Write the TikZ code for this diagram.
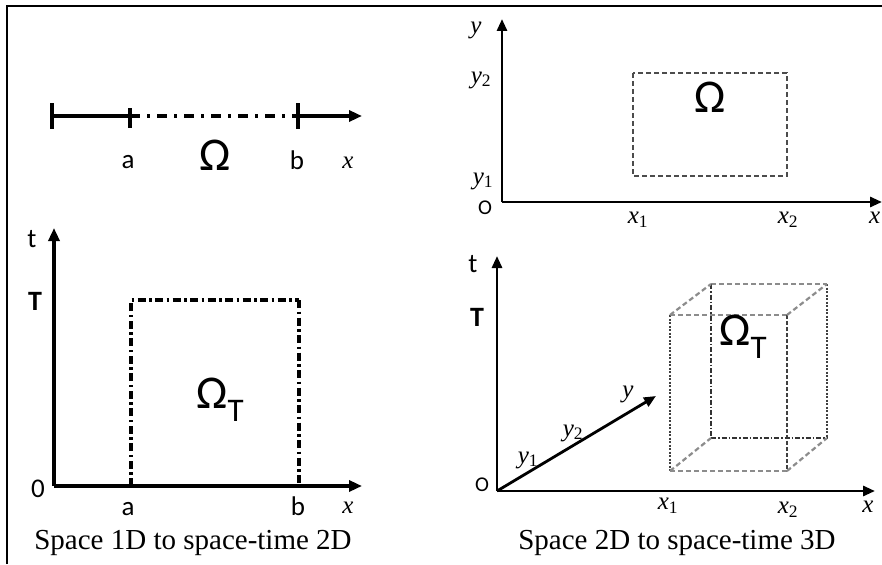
\documentclass[tikz,border=0pt]{standalone}
\usepackage{fontspec}
\setmainfont{Liberation Serif}
\newfontfamily\sansf{Carlito}
\usetikzlibrary{arrows.meta}
\begin{document}
\begin{tikzpicture}[x=1pt,y=-1pt,
  axisA/.style={line width=3.2pt,-{Triangle[length=13pt,width=11pt]}},
  axisB/.style={line width=2.8pt,-{Triangle[length=12pt,width=10pt]}},
  solidseg/.style={line width=3.2pt},
  tickbar/.style={line width=3.5pt},
  dashdotA/.style={line width=3.8pt,dash pattern=on 10pt off 7pt on 3pt off 7pt},
  dashdotB/.style={line width=3.2pt,dash pattern=on 8pt off 3.5pt on 2.5pt off 3.5pt},
  dashrect/.style={line width=2.2pt,black!70,dash pattern=on 5pt off 3pt},
  graydash/.style={line width=2.2pt,black!45,dash pattern=on 5pt off 3pt},
  darkdot/.style={line width=2pt,black!75,dash pattern=on 2pt off 1.5pt},
  darkdash/.style={line width=2pt,black!75,dash pattern=on 4pt off 2pt},
  finedashdot/.style={line width=1.8pt,black!80,dash pattern=on 5pt off 2pt on 1.5pt off 2pt},
  sanslbl/.style={font=\sansf\fontsize{27}{27}\selectfont,inner sep=0pt},
  boldlbl/.style={font=\sansf\bfseries\fontsize{28}{28}\selectfont,inner sep=0pt},
  olbl/.style={font=\sansf\fontsize{21}{21}\selectfont,inner sep=0pt},
  itlbl/.style={font=\itshape\fontsize{25}{25}\selectfont,inner sep=0pt},
  omega/.style={font=\sansf\fontsize{47}{47}\selectfont,inner sep=0pt},
  caption/.style={font=\fontsize{29}{29}\selectfont,inner sep=0pt}
]
\useasboundingbox (0,0) rectangle (882,564);
\newcommand{\sub}[1]{\textsubscript{\upshape #1}}
% frame
\coordinate (fbl) at (7,564);
\coordinate (ftl) at (7,6);
\coordinate (ftr) at (882,6);
\draw[line width=2.2pt] (fbl) -- (ftl) -- (ftr);

% ---------- Panel 1: 1D space ----------
\coordinate (p1L) at (52,116);
\coordinate (p1A) at (130,116);
\coordinate (p1B) at (298,116);
\coordinate (p1E) at (362,116);
\draw[solidseg] (p1L) -- (p1A);
\draw[dashdotA] (p1A) -- (p1B);
\draw[axisA] (p1B) -- (p1E);
\draw[tickbar] ([yshift=-13pt]p1L) -- ([yshift=13pt]p1L);
\draw[tickbar] ([yshift=-12pt]p1A) -- ([yshift=8pt]p1A);
\draw[tickbar] ([yshift=-13pt]p1B) -- ([yshift=13pt]p1B);
\node[sanslbl] (p1a) at (128,162) {a};
\node[omega] (p1om) at (215,155) {Ω};
\node[sanslbl] (p1b) at (297,160) {b};
\node[itlbl] (p1x) at (348,163) {x};

% ---------- Panel 3: space-time 2D ----------
\coordinate (p3O) at (54,486);
\coordinate (p3T) at (54,228);
\coordinate (p3X) at (362,486);
\draw[axisA] (p3O) -- (p3T);
\draw[axisA] (p3O) -- (p3X);
\coordinate (p3r1) at (131,300);
\coordinate (p3r3) at (299,300);
\coordinate (p3r2) at (299,486);
\coordinate (p3r4) at (131,486);
\draw[dashdotB] (p3r4) -- (p3r1) -- (p3r3);
\draw[dashdotB] (p3r4) -- (p3r2);
\draw[dashdotB,line width=4.2pt] (p3r3) -- (p3r2);
\node[sanslbl] (p3t) at (32,239) {t};
\node[boldlbl] (p3Tl) at (35,301) {T};
\node[sanslbl] (p3zero) at (38,489) {0};
\node[sanslbl] (p3a) at (128,509) {a};
\node[sanslbl] (p3b) at (298,506) {b};
\node[itlbl] (p3x) at (348,508) {x};
\node[omega] (p3om) at (220,400) {Ω\raisebox{-0.28em}{\fontsize{33}{33}\selectfont T}};
\node[caption] (cap1) at (193,543) {Space 1D to space-time 2D};

% ---------- Panel 2: 2D space ----------
\coordinate (p2O) at (502,202);
\coordinate (p2Y) at (502,19);
\coordinate (p2X) at (882,202);
\draw[axisB] (p2O) -- (p2Y);
\draw[axisB] (p2O) -- (p2X);
\coordinate (p2r1) at (633,73);
\coordinate (p2r2) at (787,176);
\draw[dashrect] (p2r1) rectangle (p2r2);
\node[omega] (p2om) at (710,97) {Ω};
\node[itlbl] (p2y) at (476,30) {y};
\node[itlbl] (p2y2) at (481,80) {y\sub{2}};
\node[itlbl] (p2y1) at (483,181) {y\sub{1}};
\node[olbl] (p2o) at (485,208) {O};
\node[itlbl] (p2x1) at (638,220) {x\sub{1}};
\node[itlbl] (p2x2) at (788,220) {x\sub{2}};
\node[itlbl,anchor=west] (p2x) at (869,218) {x};

% ---------- Panel 4: space-time 3D ----------
\coordinate (p4O) at (497,491);
\coordinate (p4T) at (497,256);
\coordinate (p4X) at (875,491);
\coordinate (p4Y) at (656,396);
\draw[axisB] (p4O) -- (p4T);
\draw[axisB] (p4O) -- (p4X);
\draw[axisB] (p4O) -- (p4Y);
% box: front face
\coordinate (f1) at (670,315);
\coordinate (f2) at (787,315);
\coordinate (f3) at (787,471);
\coordinate (f4) at (670,471);
% back face
\coordinate (b1) at (711,284);
\coordinate (b2) at (827,284);
\coordinate (b3) at (827,438);
\coordinate (b4) at (711,438);
\draw[graydash] (f1) -- (f2);
\draw[graydash] (f4) -- (f3);
\draw[darkdot] (f1) -- (f4);
\draw[darkdash] (f2) -- (f3);
\draw[graydash] (b1) -- (b2);
\draw[darkdot] (b2) -- (b3);
\draw[finedashdot] (b4) -- (b3);
\draw[finedashdot] (b1) -- (b4);
\draw[graydash] (f1) -- (b1);
\draw[graydash] (f2) -- (b2);
\draw[graydash] (f3) -- (b3);
\draw[graydash] (f4) -- (b4);
\node[omega] (p4om) at (743,337) {Ω\raisebox{-0.28em}{\fontsize{33}{33}\selectfont T}};
\node[sanslbl] (p4t) at (473,264) {t};
\node[boldlbl] (p4Tl) at (477,317) {T};
\node[olbl] (p4o) at (482,485) {O};
\node[itlbl] (p4y) at (628,394) {y};
\node[itlbl] (p4y2) at (573,433) {y\sub{2}};
\node[itlbl] (p4y1) at (528,460) {y\sub{1}};
\node[itlbl] (p4x1) at (668,506) {x\sub{1}};
\node[itlbl] (p4x2) at (788,510) {x\sub{2}};
\node[itlbl] (p4x) at (868,507) {x};
\node[caption] (cap2) at (677,543) {Space 2D to space-time 3D};
\end{tikzpicture}
\end{document}
